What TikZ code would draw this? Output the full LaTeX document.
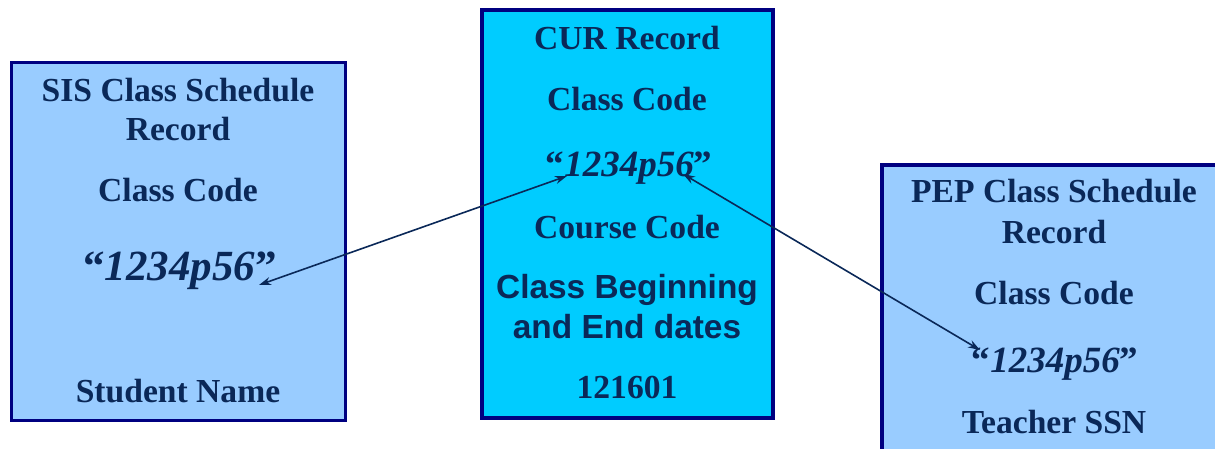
\documentclass[tikz,border=0pt]{standalone}
\usepackage{fontspec}
\setmainfont{Liberation Serif}
\newfontfamily\arialfont{Liberation Sans}
\usetikzlibrary{positioning,arrows.meta}
\definecolor{recnavy}{HTML}{000080}
\definecolor{rectext}{HTML}{0A2858}
\definecolor{reclight}{HTML}{99CCFF}
\definecolor{reccyan}{HTML}{00CCFF}
\newcommand{\classcode}{“\textit{1234p56}”}

\begin{document}
\begin{tikzpicture}[x=1pt,y=-1pt,
  record/.style={rectangle,draw=recnavy,line width=3.5pt,anchor=north west,inner sep=0pt,outer sep=0pt},
  field/.style={text=rectext,font=\fontsize{33.6}{39}\selectfont\bfseries,anchor=base,inner sep=0pt},
  sansfield/.style={field,font=\fontsize{33.4}{39}\selectfont\arialfont\bfseries},
  code/.style={field,font=\fontsize{37}{42}\selectfont\bfseries},
  bigcode/.style={field,font=\fontsize{43}{48}\selectfont\bfseries},
  link/.style={{Stealth[length=12pt,width=8pt]}-{Stealth[length=12pt,width=8pt]},draw=rectext,line width=1.6pt}]
   \clip (0,0) rectangle (1215,449);
   % the three records
   \node[record,fill=reclight,minimum width=334pt,minimum height=358pt] (sis) at (11.5,62.5) {};
   \node[record,fill=reccyan,minimum width=291pt,minimum height=408pt] (cur) at (482,10) {};
   \node[record,fill=reclight,minimum width=360pt,minimum height=320pt] (pep) at (882,165) {};
   % SIS fields
   \node[field] (sistitle) at (178,102) {SIS Class Schedule};
   \node[field] (sisrec)   at (178,141) {Record};
   \node[field] (siscc)    at (178,202) {Class Code};
   \node[bigcode] (siscode) at (180,280) {\classcode};
   \node[field] (sisname)  at (178,402) {Student Name};
   % CUR fields
   \node[field] (curtitle) at (627,50)  {CUR Record};
   \node[field] (curcc)    at (627,111) {Class Code};
   \node[code]  (curcode)  at (629,177) {\classcode};
   \node[field] (curcourse) at (627,238) {Course Code};
   \node[sansfield] (curbeg) at (627,298) {Class Beginning};
   \node[sansfield] (curend) at (627,338) {and End dates};
   \node[field] (curnum)   at (627,398) {121601};
   % PEP fields
   \node[field] (peptitle) at (1054,203) {PEP Class Schedule};
   \node[field] (peprec)   at (1054,243) {Record};
   \node[field] (pepcc)    at (1054,304) {Class Code};
   \node[code]  (pepcode)  at (1055,372) {\classcode};
   \node[field] (pepssn)   at (1054,433) {Teacher SSN};
   % links between the class codes
   \coordinate (sisend) at (259,285);
   \coordinate (curleft) at (567,176);
   \coordinate (curright) at (683,174);
   \coordinate (pepend) at (980,350);
   \draw[link] (sisend) -- (curleft);
   \draw[link] (curright) -- (pepend);
\end{tikzpicture}
\end{document}
